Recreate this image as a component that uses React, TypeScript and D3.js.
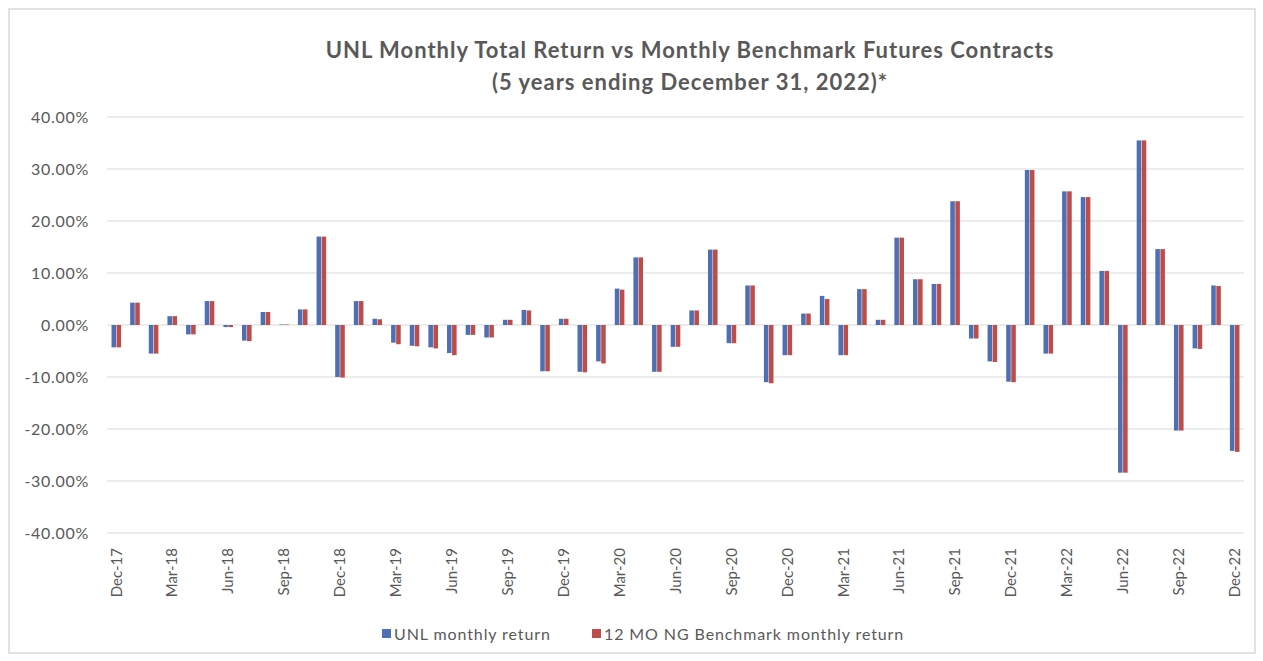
import React, { useRef, useEffect } from 'react';
import * as d3 from 'd3';

// Month labels, Dec-17 .. Dec-22
const months: string[] = [
  'Dec-17',
  'Jan-18', 'Feb-18', 'Mar-18', 'Apr-18', 'May-18', 'Jun-18', 'Jul-18', 'Aug-18', 'Sep-18', 'Oct-18', 'Nov-18', 'Dec-18',
  'Jan-19', 'Feb-19', 'Mar-19', 'Apr-19', 'May-19', 'Jun-19', 'Jul-19', 'Aug-19', 'Sep-19', 'Oct-19', 'Nov-19', 'Dec-19',
  'Jan-20', 'Feb-20', 'Mar-20', 'Apr-20', 'May-20', 'Jun-20', 'Jul-20', 'Aug-20', 'Sep-20', 'Oct-20', 'Nov-20', 'Dec-20',
  'Jan-21', 'Feb-21', 'Mar-21', 'Apr-21', 'May-21', 'Jun-21', 'Jul-21', 'Aug-21', 'Sep-21', 'Oct-21', 'Nov-21', 'Dec-21',
  'Jan-22', 'Feb-22', 'Mar-22', 'Apr-22', 'May-22', 'Jun-22', 'Jul-22', 'Aug-22', 'Sep-22', 'Oct-22', 'Nov-22', 'Dec-22',
];

// monthly returns in %
const unlReturns: number[] = [
  -4.3,
  4.3, -5.5, 1.7, -1.8, 4.6, -0.4, -3.0, 2.5, 0.1, 3.0, 17.0, -10.0,
  4.6, 1.2, -3.4, -4.0, -4.3, -5.4, -1.9, -2.4, 1.0, 2.9, -8.9, 1.2,
  -9.0, -7.0, 7.0, 13.0, -9.0, -4.2, 2.8, 14.5, -3.5, 7.6, -11.0, -5.8,
  2.2, 5.6, -5.8, 6.9, 1.0, 16.8, 8.8, 7.9, 23.8, -2.6, -7.0, -10.9,
  29.8, -5.5, 25.7, 24.6, 10.4, -28.4, 35.5, 14.6, -20.3, -4.5, 7.6, -24.2,
];

const benchReturns: number[] = [
  -4.3,
  4.3, -5.5, 1.7, -1.8, 4.6, -0.4, -3.1, 2.5, 0.1, 3.0, 17.0, -10.1,
  4.6, 1.1, -3.7, -4.1, -4.5, -5.8, -1.9, -2.4, 1.0, 2.8, -8.9, 1.2,
  -9.1, -7.4, 6.8, 13.0, -9.0, -4.2, 2.8, 14.5, -3.5, 7.6, -11.2, -5.8,
  2.2, 5.0, -5.8, 6.9, 1.0, 16.8, 8.8, 7.9, 23.8, -2.6, -7.1, -11.0,
  29.8, -5.5, 25.7, 24.6, 10.4, -28.4, 35.5, 14.6, -20.3, -4.6, 7.5, -24.4,
];

const yTicks: number[] = [-40, -30, -20, -10, 0, 10, 20, 30, 40];

const seriesNames: string[] = ['UNL monthly return', '12 MO NG Benchmark monthly return'];
const seriesColors: string[] = ['#4E6FB3', '#BD4D4A'];

const App: React.FC = () => {
  const svgRef = useRef<SVGSVGElement>(null);
  const width = 1263;
  const height = 661;

  useEffect(() => {
    if (!svgRef.current) return;
    const svg = d3.select(svgRef.current);
    svg.selectAll('*').remove();

    const font = 'Lato, "Open Sans", sans-serif';
    const textColor = '#595959';
    const plot = { left: 107, right: 1244, top: 117, bottom: 533 };

    // chart border
    svg
      .append('rect')
      .attr('x', 9)
      .attr('y', 9)
      .attr('width', 1246)
      .attr('height', 644)
      .attr('fill', '#ffffff')
      .attr('stroke', '#d9d9d9')
      .attr('stroke-width', 1.5);

    const x = d3.scaleBand<string>().domain(months).range([plot.left, plot.right]);
    const y = d3.scaleLinear().domain([-40, 40]).range([plot.bottom, plot.top]);
    const inner = d3
      .scaleBand<number>()
      .domain([0, 1])
      .range([-4.8, 4.8])
      .paddingInner(0.1);

    // gridlines
    svg
      .append('g')
      .selectAll('line')
      .data(yTicks)
      .enter()
      .append('line')
      .attr('x1', plot.left)
      .attr('x2', plot.right)
      .attr('y1', (d) => y(d))
      .attr('y2', (d) => y(d))
      .attr('stroke', '#d9d9d9')
      .attr('stroke-width', 1.2);

    // y labels
    svg
      .append('g')
      .selectAll('text')
      .data(yTicks)
      .enter()
      .append('text')
      .attr('x', 89)
      .attr('y', (d) => y(d))
      .attr('dy', '0.35em')
      .attr('text-anchor', 'end')
      .attr('font-family', font)
      .attr('font-size', '16px')
      .attr('letter-spacing', '0.7px')
      .attr('fill', textColor)
      .text((d) => `${d.toFixed(2)}%`);

    // bars
    const series = [unlReturns, benchReturns];
    series.forEach((vals, si) => {
      svg
        .append('g')
        .selectAll('rect')
        .data(vals)
        .enter()
        .append('rect')
        .attr('x', (_, i) => x(months[i])! + x.bandwidth() / 2 + inner(si)!)
        .attr('width', inner.bandwidth())
        .attr('y', (d) => y(Math.max(0, d)))
        .attr('height', (d) => Math.abs(y(d) - y(0)))
        .attr('fill', seriesColors[si]);
    });

    // x labels (every 3rd month)
    svg
      .append('g')
      .selectAll('text')
      .data(months.filter((_, i) => i % 3 === 0))
      .enter()
      .append('text')
      .attr('transform', (d) => `translate(${x(d)! + x.bandwidth() / 2},${plot.bottom + 15}) rotate(-90)`)
      .attr('dy', '0.35em')
      .attr('text-anchor', 'end')
      .attr('font-family', font)
      .attr('font-size', '15px')
      .attr('fill', textColor)
      .text((d) => d);

    // title
    const title = svg
      .append('text')
      .attr('x', 690)
      .attr('y', 58)
      .attr('text-anchor', 'middle')
      .attr('font-family', font)
      .attr('font-size', '22px')
      .attr('font-weight', 'bold')
      .attr('letter-spacing', '1px')
      .attr('fill', textColor);
    title.append('tspan').attr('x', 690).text('UNL Monthly Total Return vs Monthly Benchmark Futures Contracts');
    title.append('tspan').attr('x', 690).attr('dy', 32).text('(5 years ending December 31, 2022)*');

    // legend
    const legendX = [382, 592];
    seriesNames.forEach((name, i) => {
      const g = svg.append('g').attr('transform', `translate(${legendX[i]},634)`);
      g.append('rect')
        .attr('x', 0)
        .attr('y', -5)
        .attr('width', 9)
        .attr('height', 9)
        .attr('fill', seriesColors[i]);
      g.append('text')
        .attr('x', 12)
        .attr('y', 0)
        .attr('dy', '0.35em')
        .attr('font-family', font)
        .attr('font-size', '16px')
        .attr('letter-spacing', '0.9px')
        .attr('fill', textColor)
        .text(name);
    });
  }, []);

  return (
    <div style={{ position: 'absolute', left: 0, top: 0, background: '#ffffff' }}>
      <svg ref={svgRef} width={width} height={height} />
    </div>
  );
};

export default App;
